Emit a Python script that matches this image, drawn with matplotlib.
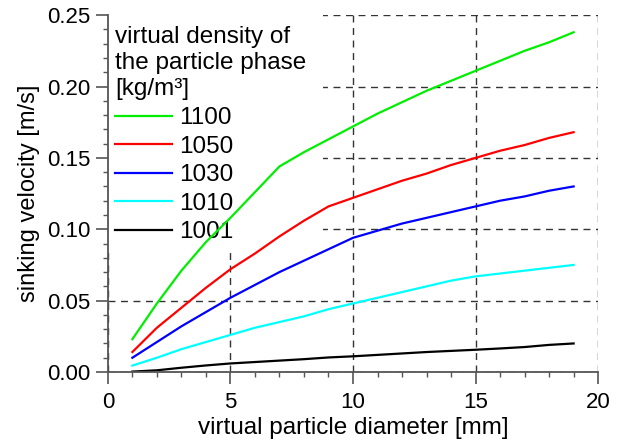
import matplotlib
matplotlib.use("Agg")
import matplotlib.pyplot as plt
from matplotlib.patches import Rectangle
from matplotlib.ticker import MultipleLocator, FormatStrFormatter

plt.rcParams['font.family'] = ['Liberation Sans', 'DejaVu Sans']

# virtual particle diameter [mm]
diameter = [1, 2, 3, 4, 5, 6, 7, 8, 9, 10, 11, 12, 13, 14, 15, 16, 17, 18, 19]

# sinking velocity [m/s] per virtual density of the particle phase
v_1100 = [0.023, 0.048, 0.071, 0.091, 0.108, 0.126, 0.144, 0.154, 0.163, 0.172,
          0.181, 0.189, 0.197, 0.204, 0.211, 0.218, 0.225, 0.231, 0.238]
v_1050 = [0.014, 0.031, 0.045, 0.059, 0.072, 0.083, 0.095, 0.106, 0.116, 0.122,
          0.128, 0.134, 0.139, 0.145, 0.150, 0.155, 0.159, 0.164, 0.168]
v_1030 = [0.010, 0.021, 0.032, 0.042, 0.052, 0.061, 0.070, 0.078, 0.086, 0.094,
          0.099, 0.104, 0.108, 0.112, 0.116, 0.120, 0.123, 0.127, 0.130]
v_1010 = [0.0045, 0.010, 0.016, 0.021, 0.026, 0.031, 0.035, 0.039, 0.044, 0.048,
          0.052, 0.056, 0.060, 0.064, 0.067, 0.069, 0.071, 0.073, 0.075]
v_1001 = [0.0003, 0.0012, 0.003, 0.0046, 0.006, 0.007, 0.008, 0.009, 0.0102, 0.011,
          0.012, 0.013, 0.014, 0.0148, 0.0156, 0.0165, 0.0175, 0.019, 0.020]

series = [
    ('1100', v_1100, '#00ee00'),
    ('1050', v_1050, '#ff0000'),
    ('1030', v_1030, '#0000ff'),
    ('1010', v_1010, '#00ffff'),
    ('1001', v_1001, '#000000'),
]

fig = plt.figure(figsize=(6.27, 4.45), dpi=100)
ax = fig.add_axes([0.172, 0.164, 0.782, 0.802])

for label, vals, color in series:
    ax.plot(diameter, vals, color=color, lw=1.6, label=label, zorder=3)

ax.set_xlim(0, 20)
ax.set_ylim(0, 0.25)
ax.xaxis.set_major_locator(MultipleLocator(5))
ax.xaxis.set_minor_locator(MultipleLocator(1))
ax.yaxis.set_major_locator(MultipleLocator(0.05))
ax.yaxis.set_minor_locator(MultipleLocator(0.01))
ax.yaxis.set_major_formatter(FormatStrFormatter('%.2f'))

ax.set_axisbelow(True)
ax.grid(True, which='major', color='#333333', linestyle=(0, (5, 4)), lw=1.0, zorder=0.5)

for side in ['top', 'right']:
    ax.spines[side].set_visible(False)
for side in ['left', 'bottom']:
    ax.spines[side].set_color('#555555')
    ax.spines[side].set_linewidth(1.3)
    ax.spines[side].set_zorder(4)

ax.tick_params(which='major', direction='out', length=8.5, width=1.2, color='#555555',
               labelsize=16, pad=4)
ax.tick_params(axis='x', which='major', pad=6)
ax.tick_params(which='minor', direction='out', length=3.8, width=1.0, color='#555555')

ax.set_xlabel('virtual particle diameter [mm]', fontsize=17.5, labelpad=3)
ax.set_ylabel('sinking velocity [m/s]', fontsize=17, labelpad=5)

leg = ax.legend(title='virtual density of\nthe particle phase\n[kg/m³]',
                loc='upper left', bbox_to_anchor=(0, 0.99),
                fontsize=17.5, title_fontsize=17.5, frameon=False,
                handlelength=2.35, handletextpad=0.3, labelspacing=0.27,
                borderaxespad=0.0, borderpad=0.3)
leg._legend_box.align = 'left'
leg.get_title().set_linespacing(1.25)
leg.set_zorder(1)

# white backing behind the legend: hides the grid but not the curves
fig.canvas.draw()
bb = leg.get_window_extent().transformed(ax.transAxes.inverted())
ax.add_patch(Rectangle((0, bb.y0), bb.x1 + 0.02, 1 - bb.y0, transform=ax.transAxes,
                       facecolor='white', edgecolor='none', zorder=0.9))

fig.savefig('out.png', dpi=100)
